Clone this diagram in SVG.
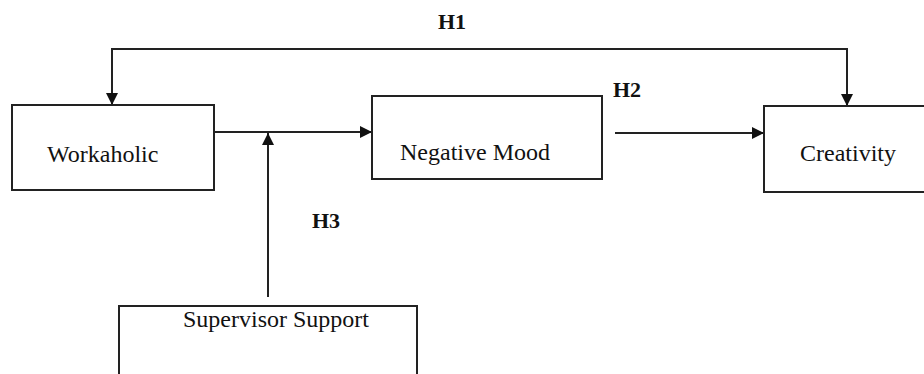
<svg xmlns="http://www.w3.org/2000/svg" width="924" height="374" viewBox="0 0 924 374">
<style>
.box{fill:#fff;stroke:#222;stroke-width:2}
.lbl{font-family:"Liberation Serif","Times New Roman",serif;font-size:24px;fill:#111}
.h{font-family:"Liberation Serif","Times New Roman",serif;font-size:22px;font-weight:bold;fill:#111}
.ln{fill:none;stroke:#222;stroke-width:2}
</style>
<defs>
<marker id="ah" viewBox="0 0 12 12" refX="12" refY="6" markerWidth="12" markerHeight="12" markerUnits="userSpaceOnUse" orient="auto-start-reverse">
<path d="M0,0 L12,6 L0,12 Z" fill="#111"/>
</marker>
</defs>
<rect width="924" height="374" fill="#fff"/>
<g id="connectors">
<path class="ln" d="M112,105 V49 H847 V106" marker-start="url(#ah)" marker-end="url(#ah)"/>
<path class="ln" d="M211,132 H372" marker-end="url(#ah)"/>
<path class="ln" d="M268,297 V133" marker-end="url(#ah)"/>
<path class="ln" d="M615,133 H764" marker-end="url(#ah)"/>
<text class="h" x="438" y="29">H1</text>
<text class="h" x="613" y="97">H2</text>
<text class="h" x="312" y="228">H3</text>
</g>
<g id="workaholic">
<rect class="box" x="12" y="105" width="202" height="85"/>
<text class="lbl" x="47" y="162">Workaholic</text>
</g>
<g id="negative-mood">
<rect class="box" x="372" y="96" width="230" height="83"/>
<text class="lbl" x="400" y="160">Negative Mood</text>
</g>
<g id="creativity">
<rect class="box" x="764" y="106" width="170" height="86"/>
<text class="lbl" x="800" y="161">Creativity</text>
</g>
<g id="supervisor-support">
<rect class="box" x="119" y="306" width="298" height="80"/>
<text class="lbl" x="183" y="327">Supervisor Support</text>
</g>
</svg>
